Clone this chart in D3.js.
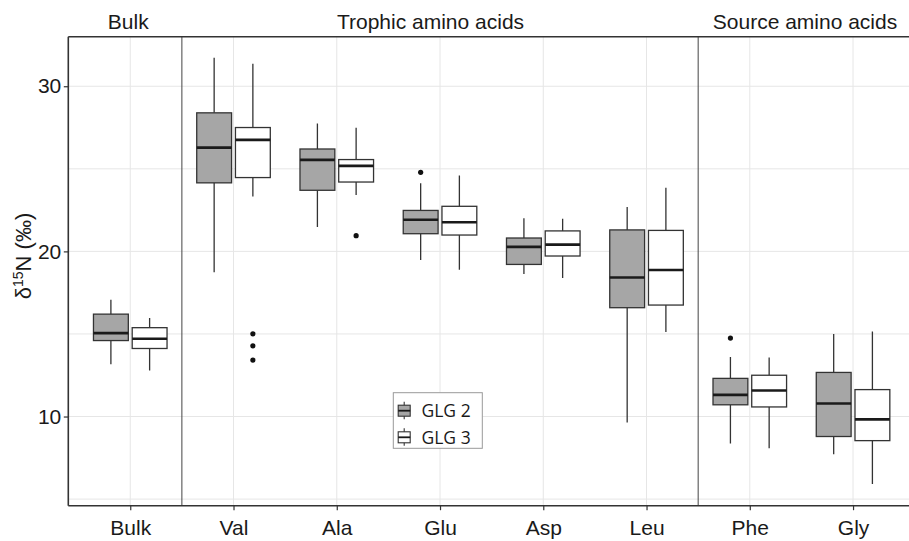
<!DOCTYPE html>
<html><head><meta charset="utf-8">
<script src="https://cdn.jsdelivr.net/npm/d3@7"></script>
<style>body{margin:0;background:#fff;} svg{display:block;}</style>
</head><body>
<svg id="chart" width="909" height="541"></svg>
<script>
const categories = ["Bulk","Val","Ala","Glu","Asp","Leu","Phe","Gly"];
const groups = ["GLG 2","GLG 3"];
const groupFill = ["#a6a6a6","#ffffff"];

const glg2Low  = [13.17, 18.73, 21.48, 19.48, 18.63,  9.64,  8.37,  7.71];
const glg2Q1   = [14.60, 24.15, 23.70, 21.07, 19.21, 16.59, 10.71,  8.79];
const glg2Med  = [15.05, 26.28, 25.54, 21.92, 20.27, 18.42, 11.31, 10.79];
const glg2Q3   = [16.20, 28.39, 26.20, 22.48, 20.81, 21.30, 12.31, 12.67];
const glg2High = [17.07, 31.72, 27.74, 24.12, 22.00, 22.69, 13.60, 15.00];

const glg3Low  = [12.79, 23.32, 23.42, 18.89, 18.39, 15.12,  8.08,  5.92];
const glg3Q1   = [14.12, 24.47, 24.20, 20.99, 19.72, 16.75, 10.58,  8.54];
const glg3Med  = [14.71, 26.75, 25.18, 21.76, 20.41, 18.87, 11.58,  9.83];
const glg3Q3   = [15.38, 27.50, 25.56, 22.73, 21.24, 21.27, 12.50, 11.63];
const glg3High = [15.96, 31.36, 27.48, 24.59, 21.98, 23.86, 13.58, 15.15];

const outlierCats   = ["Glu","Phe","Val","Val","Val","Ala"];
const outlierGroups = ["GLG 2","GLG 2","GLG 3","GLG 3","GLG 3","GLG 3"];
const outlierValues = [24.79, 14.75, 15.01, 14.28, 13.42, 20.95];

const yTicks = [10, 20, 30];
const yGrid = [5, 10, 15, 20, 25, 30];

const sectionLabels = ["Bulk","Trophic amino acids","Source amino acids"];
const sectionCenters = [128.3, 430.5, 805];
const separatorsAfter = ["Bulk","Leu"];

const stats = [
  {low: glg2Low, q1: glg2Q1, med: glg2Med, q3: glg2Q3, high: glg2High},
  {low: glg3Low, q1: glg3Q1, med: glg3Med, q3: glg3Q3, high: glg3High}
];

const svg = d3.select("#chart");
const pLeft = 68.3, pRight = 915, pTop = 36.7, pBottom = 505.7;
const FONT = "'Liberation Sans', Arial, Helvetica, sans-serif";

const x = d3.scalePoint().domain(categories).range([pLeft, pRight]).padding(0.6);
const step = x.step();
const xg = d3.scaleBand().domain(groups).range([-0.375 * step, 0.375 * step]);
const boxW = xg.bandwidth() * 0.9;
const y = d3.scaleLinear().domain([4.6, 33.0]).range([pBottom, pTop]);

svg.append("defs").append("clipPath").attr("id", "panel")
  .append("rect").attr("x", pLeft).attr("y", pTop).attr("width", pRight - pLeft).attr("height", pBottom - pTop);

const panel = svg.append("g").attr("clip-path", "url(#panel)");

// grid
panel.selectAll(".hg").data(yGrid).join("line")
  .attr("x1", pLeft).attr("x2", pRight)
  .attr("y1", d => y(d)).attr("y2", d => y(d))
  .attr("stroke", "#e6e6e6").attr("stroke-width", 1);
panel.selectAll(".vg").data(categories).join("line")
  .attr("x1", d => x(d)).attr("x2", d => x(d))
  .attr("y1", pTop).attr("y2", pBottom)
  .attr("stroke", "#e6e6e6").attr("stroke-width", 1);

// separators
panel.selectAll(".sep").data(separatorsAfter).join("line")
  .attr("x1", d => x(d) + step / 2).attr("x2", d => x(d) + step / 2)
  .attr("y1", pTop).attr("y2", pBottom)
  .attr("stroke", "#444").attr("stroke-width", 1);

// boxes
groups.forEach((g, gi) => {
  const s = stats[gi];
  const gEl = panel.append("g");
  categories.forEach((c, i) => {
    const cx = x(c) + xg(g) + xg.bandwidth() / 2;
    gEl.append("line").attr("x1", cx).attr("x2", cx)
      .attr("y1", y(s.high[i])).attr("y2", y(s.q3[i]))
      .attr("stroke", "#333").attr("stroke-width", 1.3);
    gEl.append("line").attr("x1", cx).attr("x2", cx)
      .attr("y1", y(s.q1[i])).attr("y2", y(s.low[i]))
      .attr("stroke", "#333").attr("stroke-width", 1.3);
    gEl.append("rect")
      .attr("x", cx - boxW / 2).attr("width", boxW)
      .attr("y", y(s.q3[i])).attr("height", y(s.q1[i]) - y(s.q3[i]))
      .attr("fill", groupFill[gi]).attr("stroke", "#333").attr("stroke-width", 1.3);
    gEl.append("line").attr("x1", cx - boxW / 2).attr("x2", cx + boxW / 2)
      .attr("y1", y(s.med[i])).attr("y2", y(s.med[i]))
      .attr("stroke", "#1a1a1a").attr("stroke-width", 2.6);
  });
});

// outliers
panel.selectAll(".out").data(outlierValues).join("circle")
  .attr("cx", (d, i) => x(outlierCats[i]) + xg(outlierGroups[i]) + xg.bandwidth() / 2)
  .attr("cy", d => y(d)).attr("r", 2.6).attr("fill", "#111");

// panel border
const border = svg.append("g").attr("stroke", "#333").attr("stroke-width", 1.6).attr("fill", "none");
border.append("line").attr("x1", pLeft).attr("x2", pRight).attr("y1", pTop).attr("y2", pTop);
border.append("line").attr("x1", pLeft).attr("x2", pLeft).attr("y1", pTop).attr("y2", pBottom);
border.append("line").attr("x1", pLeft).attr("x2", pRight).attr("y1", pBottom).attr("y2", pBottom);

// axes
const yAxis = svg.append("g").attr("transform", `translate(${pLeft},0)`)
  .call(d3.axisLeft(y).tickValues(yTicks).tickSize(4.5).tickPadding(2.5));
yAxis.select(".domain").remove();
yAxis.selectAll("line").attr("stroke", "#333").attr("stroke-width", 1.2);
yAxis.selectAll("text").attr("font-family", FONT).attr("font-size", 21).attr("fill", "#1a1a1a");

const xAxis = svg.append("g").attr("transform", `translate(0,${pBottom})`)
  .call(d3.axisBottom(x).tickSize(4.5).tickPadding(10));
xAxis.select(".domain").remove();
xAxis.selectAll("line").attr("stroke", "#333").attr("stroke-width", 1.2);
xAxis.selectAll("text").attr("font-family", FONT).attr("font-size", 21).attr("fill", "#1a1a1a");

// section headers
svg.selectAll(".hdr").data(sectionLabels).join("text")
  .attr("x", (d, i) => sectionCenters[i]).attr("y", 28.5)
  .attr("text-anchor", "middle").attr("font-family", FONT).attr("font-size", 21)
  .attr("fill", "#1a1a1a").text(d => d);

// y title
const yt = svg.append("text")
  .attr("transform", "translate(31,256) rotate(-90)")
  .attr("text-anchor", "middle").attr("font-family", FONT).attr("font-size", 22).attr("fill", "#1a1a1a");
yt.append("tspan").text("δ");
yt.append("tspan").attr("font-size", 14).attr("dy", -8).text("15");
yt.append("tspan").attr("dy", 8).text("N (‰)");

// legend
const lg = svg.append("g");
lg.append("rect").attr("x", 393.3).attr("y", 392.7).attr("width", 89).attr("height", 55.6)
  .attr("fill", "#fff").attr("stroke", "#999").attr("stroke-width", 1);
const legendRowY = [410.7, 437.3];
groups.forEach((g, gi) => {
  const cy = legendRowY[gi];
  const kx = 404.2;
  lg.append("line").attr("x1", kx).attr("x2", kx).attr("y1", cy - 9).attr("y2", cy + 8.5)
    .attr("stroke", "#333").attr("stroke-width", 1.1);
  lg.append("rect").attr("x", kx - 6).attr("y", cy - 5.5).attr("width", 12).attr("height", 11)
    .attr("fill", groupFill[gi]).attr("stroke", "#333").attr("stroke-width", 1.1);
  lg.append("line").attr("x1", kx - 6).attr("x2", kx + 6).attr("y1", cy).attr("y2", cy)
    .attr("stroke", "#1a1a1a").attr("stroke-width", 1.8);
  lg.append("text").attr("x", 421.5).attr("y", cy + 6.3)
    .attr("font-family", "'Open Sans', Lato, sans-serif").attr("font-size", 17.5)
    .attr("fill", "#1a1a1a").text(g);
});
</script>
</body></html>
